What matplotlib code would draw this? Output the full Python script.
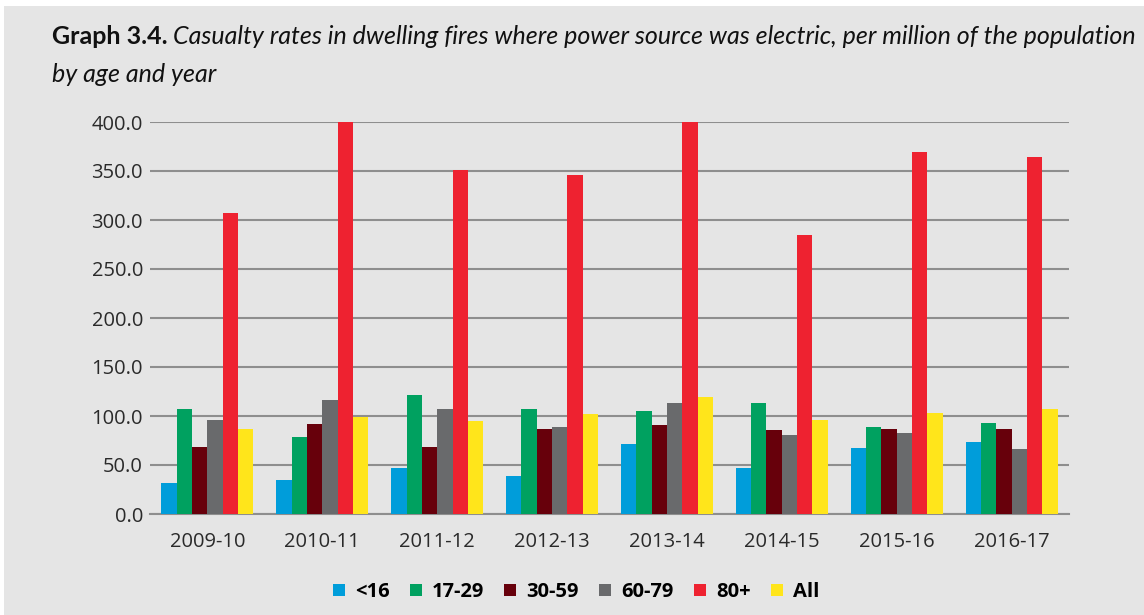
import matplotlib
matplotlib.use("Agg")
import matplotlib.pyplot as plt
import numpy as np
from matplotlib.patches import Rectangle

years = ["2009-10", "2010-11", "2011-12", "2012-13", "2013-14", "2014-15", "2015-16", "2016-17"]
series_names = ["<16", "17-29", "30-59", "60-79", "80+", "All"]
under16 = [31.9, 34.3, 47.2, 39.1, 71.7, 47.2, 67.6, 73.7]
age17_29 = [107.4, 78.8, 121.7, 107.4, 105.4, 113.5, 89.0, 93.1]
age30_59 = [68.6, 92.1, 68.6, 87.0, 91.1, 86.0, 87.0, 87.0]
age60_79 = [96.2, 116.6, 107.4, 89.0, 113.5, 80.9, 82.9, 66.6]
age80plus = [307.2, 400.0, 351.1, 346.0, 400.0, 284.8, 369.4, 364.3]
all_ages = [86.3, 98.6, 94.5, 102.3, 119.6, 96.2, 103.3, 107.4]
series_values = [under16, age17_29, age30_59, age60_79, age80plus, all_ages]
colors = ["#009DDA", "#00A160", "#67000B", "#696A6C", "#EE2230", "#FFE51B"]
yticks = [0, 50, 100, 150, 200, 250, 300, 350, 400]

W, H = 1144, 615
fig = plt.figure(figsize=(W / 100, H / 100), dpi=100, facecolor="white")
bg = "#E5E5E5"
fig.patches.append(Rectangle((4 / W, 0), 1, 1 - 6 / H, transform=fig.transFigure,
                             facecolor=bg, edgecolor="none", zorder=-10))

ax = fig.add_axes([150 / W, 1 - 514 / H, (1069 - 150) / W, (514 - 122) / H])
ax.set_facecolor(bg)
ax.patch.set_alpha(0)

x = np.arange(len(years))
bw = 0.8 / len(series_names)
for i, (name, vals, c) in enumerate(zip(series_names, series_values, colors)):
    ax.bar(x - 0.4 + bw * (i + 0.5), vals, width=bw, color=c, label=name, zorder=3)

ax.set_xlim(-0.5, len(years) - 0.5)
ax.set_ylim(0, 400)
ax.set_yticks(yticks)
ax.set_yticklabels([f"{v:.1f}" for v in yticks])
ax.set_xticks(x)
ax.set_xticklabels(years)
ax.yaxis.grid(True, color="#8E8E8E", linewidth=1.5, zorder=0)
ax.set_axisbelow(True)
for s in ["top", "right", "left"]:
    ax.spines[s].set_visible(False)
ax.spines["bottom"].set_color("#8E8E8E")
ax.spines["bottom"].set_linewidth(1.5)
ax.tick_params(axis="both", length=0, labelsize=14.5, colors="#2A2A2A", labelfontfamily="Open Sans")
ax.tick_params(axis="y", pad=5)
ax.tick_params(axis="x", pad=13)
ax.set_clip_on(False)

leg = fig.legend(loc="center", bbox_to_anchor=(576 / W, 1 - 592 / H), ncol=6, frameon=False,
                 handlelength=0.6, handleheight=0.6, handletextpad=0.5, columnspacing=1.0,
                 prop={"family": "Open Sans", "weight": "bold", "size": 14.5})

fs = 18
t1 = fig.text(52 / W, 1 - 37 / H, "Graph 3.4.", fontsize=fs, fontweight="bold",
              family="Lato", va="center", ha="left", color="#111111")
fig.canvas.draw()
bb = t1.get_window_extent()
fig.text((bb.x1 + 5) / W, 1 - 37 / H,
         "Casualty rates in dwelling fires where power source was electric, per million of the population",
         fontsize=fs, fontstyle="italic", family="Lato", va="center", ha="left", color="#111111")
fig.text(52 / W, 1 - 74 / H, "by age and year", fontsize=fs, fontstyle="italic",
         family="Lato", va="center", ha="left", color="#111111")

fig.savefig("out.png", dpi=100, facecolor=fig.get_facecolor())
